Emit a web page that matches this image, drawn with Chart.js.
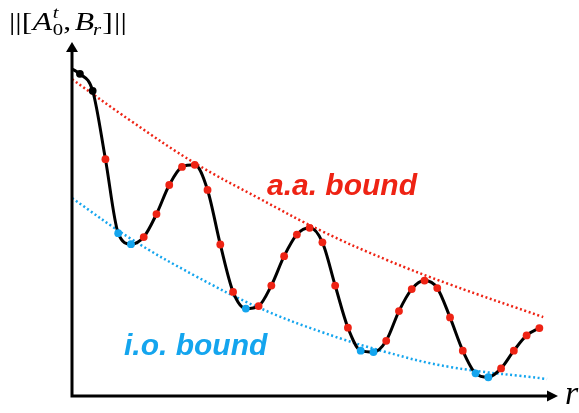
<!DOCTYPE html>
<html>
<head>
<meta charset="utf-8">
<script src="https://cdn.jsdelivr.net/npm/chart.js@4"></script>
<style>
html,body{margin:0;padding:0;background:#fff;}
#wrap{width:579px;height:413px;position:relative;}
</style>
</head>
<body>
<div id="wrap"><canvas id="c" width="579" height="413"></canvas></div>
<script>
// ---- data ----
const rStart = 0.38;
const vStart = 9.24;
const rDots = [1,2,3,4,5,6,7,8,9,10,11,12,13,14,15,16,17,18,19,20,21,22,23,24,25,26,27,28,29,30,31,32,33,34,35,36,37];
const vDots = [9.10,8.62,6.69,4.60,4.29,4.49,5.14,5.96,6.47,6.53,5.82,4.28,2.94,2.47,2.54,3.12,3.95,4.56,4.75,4.34,3.12,1.93,1.28,1.24,1.56,2.40,3.02,3.26,3.05,2.22,1.28,0.64,0.53,0.78,1.28,1.71,1.92];
const dotKind = ['k','k','r','b','b','r','r','r','r','r','r','r','r','b','r','r','r','r','r','r','r','r','b','b','r','r','r','r','r','r','r','b','b','r','r','r','r'];
const aaR = [0.38,5,10,15,20,25,30,37.3];
const aaV = [8.95,7.77,6.58,5.59,4.65,3.85,3.15,2.23];
const ioR = [0.38,5,10,15,20,25,30,37.6];
const ioV = [5.59,4.44,3.40,2.50,1.80,1.24,0.82,0.48];
const xMin = 0.38, xMax = 38.46, yMin = 0, yMax = 10;

const RED = '#ee2314';
const BLUE = '#14a5ee';
const kindColor = {k:'#000000', r:RED, b:BLUE};

const pts = (xs, ys) => xs.map((x,i)=>({x:x, y:ys[i]}));

const decorPlugin = {
  id:'decor',
  afterDraw(chart){
    const ctx = chart.ctx;
    const a = chart.chartArea;
    ctx.save();
    // axes
    ctx.strokeStyle = '#000';
    ctx.fillStyle = '#000';
    ctx.lineWidth = 3;
    ctx.beginPath();
    ctx.moveTo(a.left, a.bottom);
    ctx.lineTo(a.left, a.top + 8);
    ctx.moveTo(a.left - 1.5, a.bottom);
    ctx.lineTo(a.right - 8, a.bottom);
    ctx.stroke();
    // arrowheads
    ctx.beginPath();
    ctx.moveTo(a.left, a.top);
    ctx.lineTo(a.left - 6, a.top + 10);
    ctx.lineTo(a.left + 6, a.top + 10);
    ctx.closePath();
    ctx.fill();
    ctx.beginPath();
    ctx.moveTo(a.right, a.bottom);
    ctx.lineTo(a.right - 11, a.bottom - 5.5);
    ctx.lineTo(a.right - 11, a.bottom + 5.5);
    ctx.closePath();
    ctx.fill();

    // bound labels
    ctx.textBaseline = 'alphabetic';
    ctx.textAlign = 'left';
    ctx.font = 'italic bold 30px "Liberation Sans", Arial, sans-serif';
    ctx.fillStyle = RED;
    ctx.fillText('a.a. bound', 267, 195);
    ctx.fillStyle = BLUE;
    ctx.fillText('i.o. bound', 124, 355);

    // y-axis label ||[A_0^t, B_r]||
    ctx.fillStyle = '#000';
    const serif = '"Liberation Serif", "Times New Roman", serif';
    const up = '26px ' + serif;
    const it = 'italic 26px ' + serif;
    const sub = '17px ' + serif;
    const subIt = 'italic 17px ' + serif;
    ctx.save();
    ctx.translate(9, 30);
    ctx.scale(1.22, 1);
    let x = 0;
    function put(t, f, dy){ ctx.font = f; ctx.fillText(t, x, dy); return ctx.measureText(t).width; }
    x += put('||[', up, 0) + 0.5;
    x += put('A', it, 0) + 0.5;
    const w1 = put('t', subIt, -12);
    const w2 = put('0', sub, 5);
    x += Math.max(w1, w2);
    x += put(',', up, 0) + 3;
    x += put('B', it, 0) - 1;
    x += put('r', subIt, 5) + 1;
    x += put(']', up, 0) + 1;
    put('||', up, 0);
    ctx.restore();

    // r label
    ctx.font = 'italic 34px ' + serif;
    ctx.fillText('r', 565, 404);
    ctx.restore();
  }
};

new Chart(document.getElementById('c'), {
  type:'line',
  data:{
    datasets:[
      {
        label:'dots',
        data: pts(rDots, vDots),
        showLine:false,
        pointRadius:3.9,
        pointHoverRadius:3.9,
        pointBorderWidth:0,
        pointBackgroundColor: dotKind.map(k=>kindColor[k]),
        order:0
      },
      {
        label:'curve',
        data: [{x:rStart, y:vStart}].concat(pts(rDots, vDots)),
        borderColor:'#000',
        borderWidth:3,
        pointRadius:0,
        cubicInterpolationMode:'monotone',
        fill:false,
        order:1
      },
      {
        label:'a.a. bound',
        data: pts(aaR, aaV),
        borderColor:RED,
        borderWidth:2.5,
        borderDash:[2,2.6],
        pointRadius:0,
        tension:0.4,
        fill:false,
        order:2
      },
      {
        label:'i.o. bound',
        data: pts(ioR, ioV),
        borderColor:BLUE,
        borderWidth:2.5,
        borderDash:[2,2.6],
        pointRadius:0,
        tension:0.4,
        fill:false,
        order:2
      }
    ]
  },
  options:{
    responsive:false,
    animation:false,
    clip:false,
    layout:{padding:{left:72, right:21, top:42, bottom:17}},
    plugins:{legend:{display:false}, tooltip:{enabled:false}},
    events:[],
    scales:{
      x:{type:'linear', min:xMin, max:xMax, display:false},
      y:{type:'linear', min:yMin, max:yMax, display:false}
    }
  },
  plugins:[decorPlugin]
});
</script>
</body>
</html>
